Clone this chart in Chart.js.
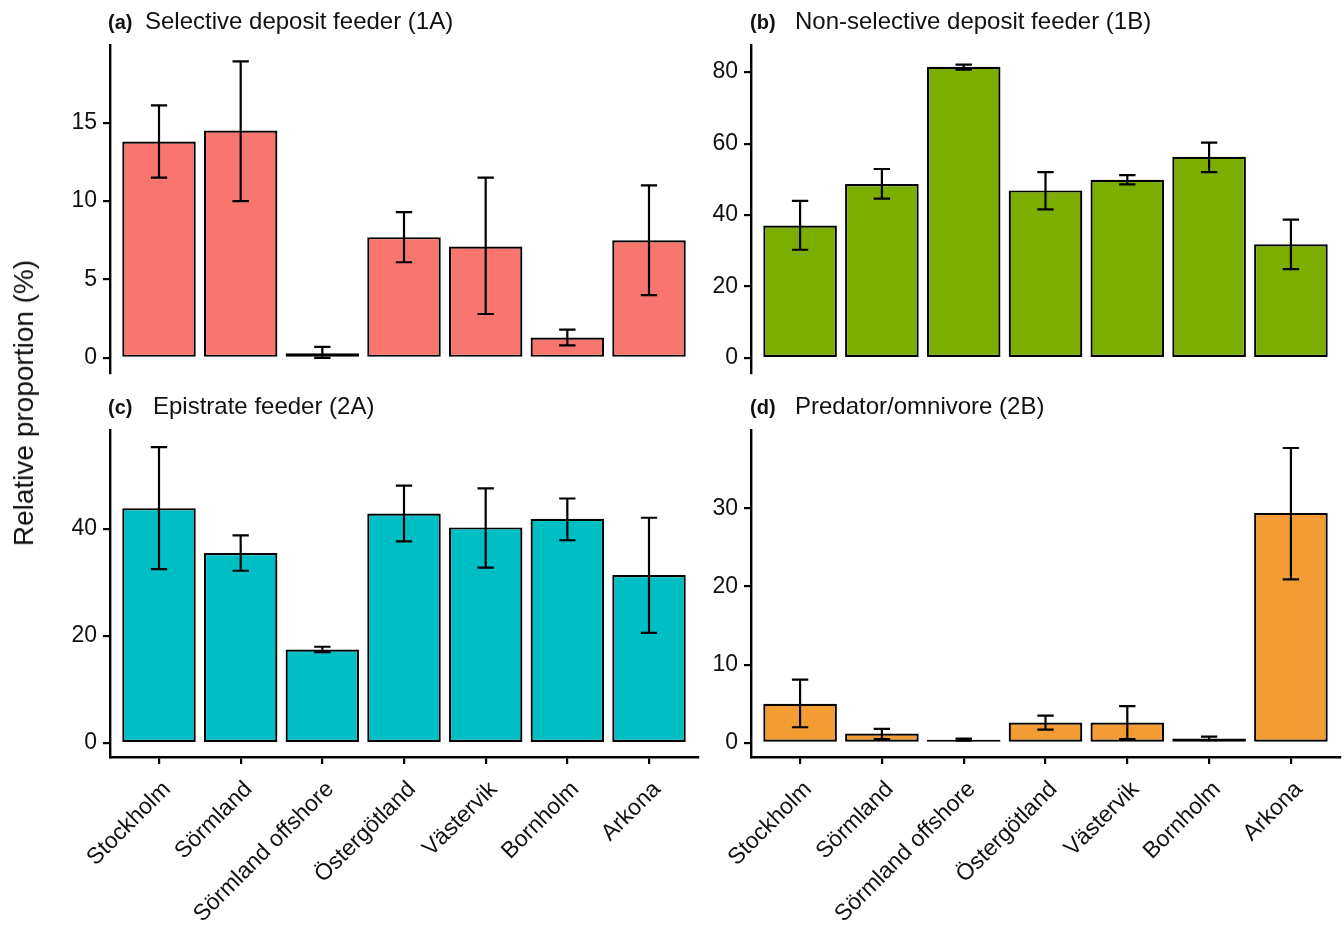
<!DOCTYPE html>
<html>
<head>
<meta charset="utf-8">
<script src="https://cdn.jsdelivr.net/npm/chart.js@4.4.1/dist/chart.umd.min.js"></script>
<style>
  body { margin: 0; background: #fff; width: 1344px; height: 930px; overflow: hidden; position: relative;
         font-family: "Liberation Sans", Arial, Helvetica, sans-serif; }
  canvas { position: absolute; left: 0; top: 0; }
  .ptitle { position: absolute; font-size: 24px; line-height: 24px; color: #111; white-space: nowrap; }
  .ptitle b { display: inline-block; font-size: 20px; width: 45px; }
  #ytitle { position: absolute; left: 24px; top: 403px; transform: translate(-50%, -50%) rotate(-90deg);
            font-size: 28px; color: #111; white-space: nowrap; }
</style>
</head>
<body>
<canvas id="pa" width="1344" height="930"></canvas>
<canvas id="pb" width="1344" height="930"></canvas>
<canvas id="pc" width="1344" height="930"></canvas>
<canvas id="pd" width="1344" height="930"></canvas>
<div class="ptitle" style="left:108px; top:9px"><b style="width:37px">(a)</b>Selective deposit feeder (1A)</div>
<div class="ptitle" style="left:750px; top:9px"><b>(b)</b>Non-selective deposit feeder (1B)</div>
<div class="ptitle" style="left:108px; top:394px"><b>(c)</b>Epistrate feeder (2A)</div>
<div class="ptitle" style="left:750px; top:394px"><b>(d)</b>Predator/omnivore (2B)</div>
<div id="ytitle">Relative proportion (%)</div>
<script>
const sites = ['Stockholm', 'Sörmland', 'Sörmland offshore', 'Östergötland', 'Västervik', 'Bornholm', 'Arkona'];

// (a) selective deposit feeder
const selMean = [13.8, 14.5, 0.3, 7.7, 7.1, 1.3, 7.5];
const selLow  = [11.5, 10.0, 0.0, 6.1, 2.8, 0.8, 4.0];
const selHigh = [16.1, 18.9, 0.7, 9.3, 11.5, 1.8, 11.0];
const selTicks = [0, 5, 10, 15];

// (b) non-selective deposit feeder
const nonMean = [37.1, 48.7, 81.5, 46.9, 49.9, 56.3, 31.8];
const nonLow  = [30.3, 44.6, 80.7, 41.6, 48.6, 52.0, 24.9];
const nonHigh = [44.0, 52.9, 82.1, 52.0, 51.2, 60.3, 38.7];
const nonTicks = [0, 20, 40, 60, 80];

// (c) epistrate feeder
const epiMean = [43.9, 35.5, 17.5, 42.9, 40.3, 41.9, 31.4];
const epiLow  = [32.5, 32.2, 17.0, 37.7, 32.8, 37.9, 20.6];
const epiHigh = [55.3, 38.8, 18.0, 48.1, 47.6, 45.7, 42.1];
const epiTicks = [0, 20, 40];

// (d) predator/omnivore
const preMean = [5.0, 1.2, 0.4, 2.6, 2.6, 0.55, 29.4];
const preLow  = [2.0, 0.5, 0.3, 1.7, 0.5, 0.35, 20.9];
const preHigh = [8.1, 1.8, 0.55, 3.5, 4.7, 0.8, 37.7];
const preTicks = [0, 10, 20, 30];

const FONT = '"Liberation Sans", Arial, Helvetica, sans-serif';

function errorBars(low, high) {
  return {
    id: 'errorBars',
    afterDatasetsDraw(chart) {
      const { ctx, scales: { x, y } } = chart;
      const half = x.getPixelForValue(1.1) - x.getPixelForValue(1);
      ctx.save();
      ctx.strokeStyle = '#000';
      ctx.lineWidth = 2.2;
      low.forEach((lo, i) => {
        const px = x.getPixelForValue(i + 1);
        const yl = y.getPixelForValue(lo);
        const yh = y.getPixelForValue(high[i]);
        ctx.beginPath();
        ctx.moveTo(px, yl); ctx.lineTo(px, yh);
        ctx.moveTo(px - half, yl); ctx.lineTo(px + half, yl);
        ctx.moveTo(px - half, yh); ctx.lineTo(px + half, yh);
        ctx.stroke();
      });
      ctx.restore();
    }
  };
}

function drawPanel(id, mean, low, high, ticks, yMin, yMax, fill, pad, showX) {
  new Chart(document.getElementById(id), {
    type: 'bar',
    data: {
      datasets: [{
        data: mean.map((v, i) => ({ x: i + 1, y: v })),
        backgroundColor: fill,
        borderColor: '#000',
        borderWidth: 2.2,
        borderSkipped: false,
        barPercentage: 0.9,
        categoryPercentage: 1
      }]
    },
    options: {
      responsive: false,
      animation: false,
      devicePixelRatio: 1,
      layout: { padding: pad },
      plugins: { legend: { display: false }, tooltip: { enabled: false } },
      scales: {
        x: {
          type: 'linear', min: 0.4, max: 7.6, offset: false, display: showX,
          afterBuildTicks: s => { s.ticks = sites.map((_, i) => ({ value: i + 1 })); },
          afterFit: s => { if (showX) s.height = 170; s.paddingLeft = 0; s.paddingRight = 0; },
          ticks: { autoSkip: false, minRotation: 45, maxRotation: 45, padding: 12, labelOffset: 8, color: '#111',
                   font: { size: 23, family: FONT }, callback: v => sites[v - 1] },
          grid: { offset: false, drawOnChartArea: false, drawTicks: true, tickLength: 7, color: '#000', lineWidth: 2.2 },
          border: { display: true, color: '#000', width: 2.4 }
        },
        y: {
          min: yMin, max: yMax,
          afterBuildTicks: s => { s.ticks = ticks.map(v => ({ value: v })); },
          afterFit: s => { s.width = 60; s.paddingTop = 0; s.paddingBottom = 0; },
          ticks: { padding: 6, color: '#111', font: { size: 23, family: FONT } },
          grid: { drawOnChartArea: false, drawTicks: true, tickLength: 7, color: '#000', lineWidth: 2.2 },
          border: { display: true, color: '#000', width: 2.4 }
        }
      }
    },
    plugins: [errorBars(low, high)]
  });
}

drawPanel('pa', selMean, selLow, selHigh, selTicks, -0.96, 19.95, '#F8766D',
  { left: 50, right: 646, top: 45, bottom: 557 }, false);
drawPanel('pb', nonMean, nonLow, nonHigh, nonTicks, -4.2, 87.6, '#7CAE00',
  { left: 691, right: 4, top: 45, bottom: 557 }, false);
drawPanel('pc', epiMean, epiLow, epiHigh, epiTicks, -2.6, 58.5, '#00BFC4',
  { left: 50, right: 646, top: 430, bottom: 3 }, true);
drawPanel('pd', preMean, preLow, preHigh, preTicks, -1.8, 40, '#F39C33',
  { left: 691, right: 4, top: 430, bottom: 3 }, true);
</script>
</body>
</html>
